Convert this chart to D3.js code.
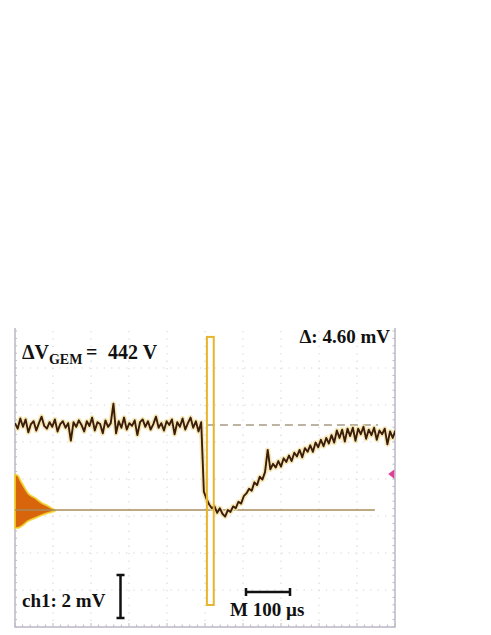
<!DOCTYPE html>
<html>
<head>
<meta charset="utf-8">
<script src="https://cdn.jsdelivr.net/npm/d3@7"></script>
<style>
  body { margin: 0; background: #fff; }
  svg { display: block; }
  .lbl { font-family: 'Liberation Serif', 'Times New Roman', serif; font-weight: bold; fill: #111; }
</style>
</head>
<body>
<div id="chart"></div>
<script>
// scope settings: 10 div x 100 us, 8 div x 2 mV
const timeDomain = [0, 1000];      // us
const voltDomain = [-10.92, 5.08]; // mV
const sampleStep = 7;              // us between samples

// ch1 trace, mV
const traceMv = [
    0.1, -0.2, 0.35, -0.1, 0.3, -0.4, 0.05, 0.2, -0.3, 0.1,
    0.45, -0.05, -0.2, 0.15, -0.1, 0.3, -0.35, 0.05, 0.2, -0.15,
    0.1, -0.85, 0.15, -0.1, 0.25, 0.0, -0.35, 0.2, -0.05, 0.4,
    -0.3, 0.15, 0.05, -0.45, 0.25, -0.1, 0.1, 1.15, -0.45, 0.2,
    -0.15, 0.4, -0.25, 0.1, -0.05, 0.25, -0.55, 0.15, 0.3, -0.1,
    0.2, -0.25, 0.05, 0.45, -0.15, 0.1, -0.3, 0.2, 0.0, 0.3,
    -0.5, 0.15, -0.1, 0.35, -0.25, 0.1, 0.4, -0.15, 0.2, -0.35,
    0.15,
    -3.6, -4.0, -4.3, -4.5, -4.4, -4.75, -4.5, -4.8, -4.95, -4.6,
    -4.7, -4.4, -4.5, -4.15, -4.25, -3.85, -3.7, -3.45, -3.55, -3.1,
    -3.25, -2.8, -2.95, -2.55, -1.35, -2.4, -2.1, -2.3, -1.95, -2.25,
    -1.8, -2.0, -1.65, -1.95, -1.5, -1.7, -1.35, -1.75, -1.25, -1.45,
    -1.1, -1.45, -0.95, -1.2, -0.8, -1.15, -0.7, -1.0, -0.55, -0.95,
    -0.3, -0.7, -0.25, -0.9, -0.2, -0.6, -0.15, -0.85, -0.2, -0.5,
    -0.1, -0.75, -0.25, -0.55, -0.15, -0.8, -0.3, -0.5, -0.2, -1.05,
    -0.35, -0.7, -0.3
];

// measurement cursors
const baseLevel = 0;        // mV, dashed line
const peakLevel = -4.6;     // mV, solid line
const dashedSpan = [505, 955];
const solidSpan = [0, 947];
const cursorTime = [505, 523];
const cursorVolt = [-9.73, 4.76];

// trigger histogram at left edge
const pulseT = [0, 5, 18, 34, 53, 71, 87, 105];
const pulseUp = [1.9, 1.9, 1.46, 0.92, 0.65, 0.38, 0.22, 0];
const pulseDown = [0.97, 0.97, 0.86, 0.6, 0.43, 0.27, 0.16, 0.05];

const trigMarker = {t: [982, 998], v: -2.65};

const w = 491, h = 635;
const frame = {left: 15, right: 395, top: 328, bottom: 627};

const svg = d3.select('#chart')
    .append('svg')
    .attr('width', w)
    .attr('height', h);

const x = d3.scaleLinear().domain(timeDomain).range([frame.left, frame.right]);
const y = d3.scaleLinear().domain(voltDomain).range([frame.bottom, 331]);

svg.append('clipPath').attr('id', 'clip')
    .append('rect')
    .attr('x', frame.left).attr('y', frame.top)
    .attr('width', frame.right - frame.left).attr('height', frame.bottom - frame.top);

// dotted graticule
const grid = svg.append('g').attr('stroke', '#d6d6d6').attr('stroke-width', 1.1).attr('stroke-dasharray', '1.3,6.1');
d3.range(1, 10).forEach(k => {
    grid.append('line')
        .attr('x1', x(k * 100)).attr('x2', x(k * 100))
        .attr('y1', y(voltDomain[1])).attr('y2', y(voltDomain[0]));
});
d3.range(1, 8).forEach(k => {
    grid.append('line')
        .attr('y1', y(voltDomain[0] + 2 * k)).attr('y2', y(voltDomain[0] + 2 * k))
        .attr('x1', x(0)).attr('x2', x(1000));
});

// frame with small ticks
const fr = svg.append('g').attr('stroke', '#bdb8c6').attr('fill', 'none');
fr.append('path')
    .attr('stroke-width', 1.5)
    .attr('d', `M${frame.left},${frame.top}V${frame.bottom}H${frame.right}V${frame.top}`);
d3.range(0, 1001, 20).forEach(t => {
    fr.append('line').attr('x1', x(t)).attr('x2', x(t))
        .attr('y1', frame.bottom).attr('y2', frame.bottom - (t % 100 == 0 ? 4 : 2.5));
});
d3.range(voltDomain[0], voltDomain[1] + 0.01, 0.4).forEach(v => {
    fr.append('line').attr('y1', y(v)).attr('y2', y(v))
        .attr('x1', frame.right).attr('x2', frame.right - 2.5);
    fr.append('line').attr('y1', y(v)).attr('y2', y(v))
        .attr('x1', frame.left).attr('x2', frame.left + 2);
});

// trigger histogram
const pulse = pulseT.map((t, i) => ({t: t, up: pulseUp[i], down: pulseDown[i]}));
const pulseArea = d3.area()
    .x(d => x(d.t))
    .y0(d => y(peakLevel - d.down))
    .y1(d => y(peakLevel + d.up))
    .curve(d3.curveMonotoneX);
svg.append('path')
    .datum(pulse)
    .attr('d', pulseArea)
    .attr('fill', '#d8640c')
    .attr('stroke', '#f3d62c')
    .attr('stroke-width', 2)
    .attr('stroke-opacity', 0.8);

// level lines
svg.append('line')
    .attr('x1', x(solidSpan[0])).attr('x2', x(solidSpan[1]))
    .attr('y1', y(peakLevel)).attr('y2', y(peakLevel))
    .attr('stroke', '#a88c5c').attr('stroke-width', 1.5);
svg.append('line')
    .attr('x1', x(dashedSpan[0])).attr('x2', x(dashedSpan[1]))
    .attr('y1', y(baseLevel)).attr('y2', y(baseLevel))
    .attr('stroke', '#a89a84').attr('stroke-width', 1.5)
    .attr('stroke-dasharray', '8,5');

// trace
const traceData = traceMv.map((v, i) => ({t: i * sampleStep, v: v}));
const line = d3.line().x(d => x(d.t)).y(d => y(d.v));
const tr = svg.append('g').attr('clip-path', 'url(#clip)');
tr.append('path')
    .datum(traceData)
    .attr('d', line)
    .attr('fill', 'none')
    .attr('stroke', '#f2e2a4')
    .attr('stroke-width', 5)
    .attr('stroke-linejoin', 'round')
    .attr('stroke-opacity', 0.8);
tr.append('path')
    .datum(traceData)
    .attr('d', line)
    .attr('fill', 'none')
    .attr('stroke', '#3c1c0a')
    .attr('stroke-width', 1.9)
    .attr('stroke-linejoin', 'round');

// cursor box
svg.append('rect')
    .attr('x', x(cursorTime[0]))
    .attr('y', y(cursorVolt[1]))
    .attr('width', x(cursorTime[1]) - x(cursorTime[0]))
    .attr('height', y(cursorVolt[0]) - y(cursorVolt[1]))
    .attr('fill', 'none')
    .attr('stroke', '#e6b52e')
    .attr('stroke-width', 2);

// trigger level marker
svg.append('path')
    .attr('d', `M${x(trigMarker.t[0])},${y(trigMarker.v)}L${x(trigMarker.t[1])},${y(trigMarker.v + 0.25)}L${x(trigMarker.t[1])},${y(trigMarker.v - 0.25)}Z`)
    .attr('fill', '#e0409a');

// labels
const t1 = svg.append('text').attr('class', 'lbl').attr('x', 22).attr('y', 359).attr('font-size', 20);
t1.append('tspan').text('ΔV');
t1.append('tspan').attr('font-size', 14).attr('dy', 5).text('GEM');
t1.append('tspan').attr('x', 86).attr('dy', -5).text('=');
t1.append('tspan').attr('x', 108).text('442 V');

svg.append('text').attr('class', 'lbl')
    .attr('x', 390).attr('y', 343).attr('font-size', 19)
    .attr('text-anchor', 'end')
    .text('Δ: 4.60 mV');

svg.append('text').attr('class', 'lbl')
    .attr('x', 22).attr('y', 607).attr('font-size', 19)
    .text('ch1: 2 mV');

svg.append('text').attr('class', 'lbl')
    .attr('x', 230).attr('y', 616).attr('font-size', 19)
    .text('M 100 µs');

// scale bars
const bars = svg.append('g').attr('stroke', '#111').attr('stroke-width', 2.5).attr('fill', 'none');
bars.append('path').attr('d', 'M120.5,575V618M116.5,575H124.5M116.5,618H124.5');
bars.append('path').attr('d', 'M246,592H290M246,588V596M290,588V596');
</script>
</body>
</html>
